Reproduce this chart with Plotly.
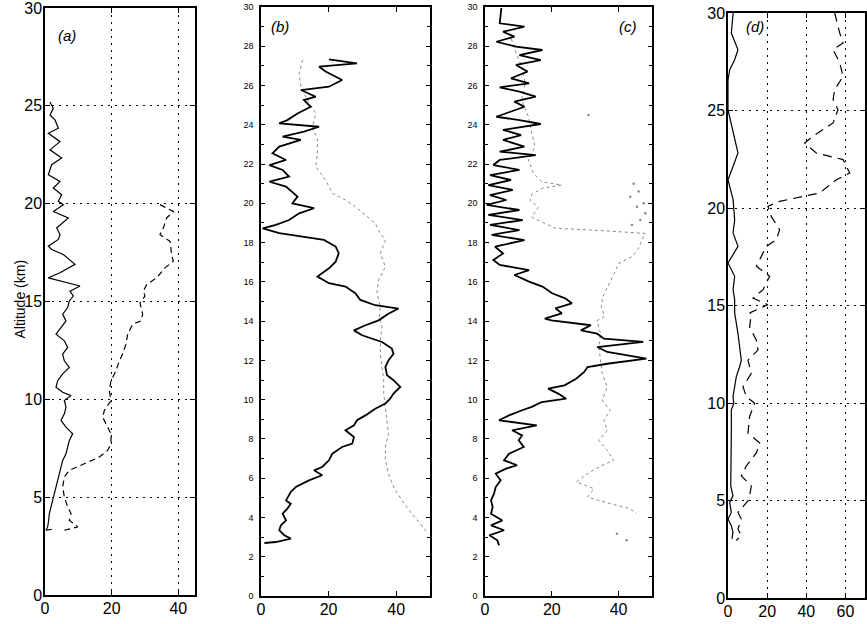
import plotly.graph_objects as go

# ---- panel (a) ----
A_ALT_SOLID = [25.2, 24.87, 24.53, 24.28, 23.85, 23.6, 23.17, 22.75, 22.33, 21.99,
               21.48, 21.14, 20.8, 20.46, 20.12, 19.95, 19.6, 19.27, 18.76, 18.42,
               18.17, 17.83, 17.66, 17.4, 16.9, 16.47, 16.21, 15.96, 15.79, 15.53,
               15.28, 15.03, 14.69, 14.35, 14.01, 13.67, 13.33, 12.99, 12.65, 12.31,
               11.97, 11.63, 11.3, 10.95, 10.62, 10.36, 10.19, 9.94, 9.6, 9.26,
               8.92, 8.58, 8.24, 7.9, 7.56, 7.22, 6.88, 6.54, 6.2, 5.86,
               5.52, 5.18, 4.84, 4.5, 4.16, 3.82, 3.48, 3.31, 3.35]
A_X_SOLID = [1.5, 2.5, 1.5, 3.0, 4.0, 1.0, 4.5, 1.5, 5.0, 2.0,
             1.0, 4.5, 2.5, 5.0, 4.0, 5.5, 2.5, 7.0, 3.5, 4.5,
             4.0, 1.0, 2.0, 5.5, 9.0, 4.5, 1.0, 6.5, 10.5, 7.5,
             8.5, 7.3, 6.8, 5.3, 6.3, 4.8, 3.3, 5.8, 6.8, 5.3,
             5.8, 7.3, 5.3, 3.8, 3.3, 5.3, 7.8, 5.8, 6.3, 5.8,
             4.8, 6.3, 8.3, 7.3, 6.8, 6.3, 5.3, 4.8, 4.3, 3.8,
             3.3, 2.8, 2.3, 1.8, 1.3, 1.1, 0.8, 0.3, 2.0]

A_ALT_DASH = [19.95, 19.6, 19.27, 18.76, 18.42, 18.08, 17.4, 17.06, 16.72, 16.21,
              15.87, 15.53, 15.28, 14.94, 14.69, 14.35, 14.01, 13.84, 13.33, 12.82,
              12.31, 11.97, 11.46, 10.95, 10.45, 9.94, 9.43, 9.09, 8.58, 8.24,
              7.73, 7.39, 7.05, 6.71, 6.37, 6.03, 5.52, 5.01, 4.5, 4.16,
              3.82, 3.48, 3.31]
A_X_DASH = [34.5, 38.5, 36.5, 35.5, 34.5, 37.5, 38.0, 38.5, 36.0, 33.5,
            30.5, 29.5, 30.0, 28.5, 28.8, 29.3, 28.8, 26.3, 24.8, 24.3,
            23.3, 22.3, 21.3, 19.8, 19.3, 19.8, 17.8, 17.3, 18.8, 19.8,
            19.8, 18.8, 16.3, 11.8, 7.3, 5.8, 5.3, 5.8, 6.8, 7.8,
            7.3, 9.8, 5.8]

# ---- panel (b) ----
B_ALT_SOLID = [27.33, 27.13, 26.96, 26.71, 26.28, 25.94, 25.77, 25.43, 25.26, 24.92,
               24.58, 24.24, 24.07, 23.9, 23.65, 23.4, 23.23, 22.89, 22.55, 22.21,
               21.95, 21.7, 21.36, 21.1, 20.85, 20.59, 20.34, 20.0, 19.75, 19.49,
               19.15, 18.9, 18.73, 18.48, 18.27, 18.14, 17.8, 17.46, 17.03, 16.69,
               16.27, 15.93, 15.76, 15.42, 15.08, 14.81, 14.64, 14.38, 14.04, 13.79,
               13.53, 13.28, 12.94, 12.6, 12.34, 12.0, 11.66, 11.24, 10.99, 10.65,
               10.31, 10.05, 9.8, 9.54, 9.2, 8.95, 8.69, 8.44, 8.1, 7.76,
               7.59, 7.25, 6.91, 6.57, 6.4, 6.15, 5.89, 5.55, 5.3, 5.04,
               4.87, 4.7, 4.45, 4.19, 3.85, 3.6, 3.35, 3.09, 2.92, 2.75,
               2.7]
B_X_SOLID = [20.1, 28.4, 17.2, 19.1, 24.0, 20.1, 11.8, 16.2, 12.7, 14.7,
             10.8, 7.8, 5.4, 17.2, 12.7, 6.4, 11.8, 5.4, 3.4, 7.4,
             2.5, 6.4, 8.3, 2.5, 7.4, 9.3, 10.8, 9.3, 15.7, 11.3,
             8.3, 4.4, 0.5, 5.4, 14.2, 18.6, 22.1, 23.0, 22.1, 20.1,
             16.7, 20.1, 25.0, 27.9, 29.4, 33.8, 40.7, 37.7, 34.8, 30.9,
             27.5, 29.9, 35.8, 38.7, 39.2, 37.7, 36.8, 37.3, 39.2, 41.2,
             39.2, 38.2, 36.8, 33.8, 30.9, 28.4, 27.5, 25.0, 27.5, 27.0,
             24.0, 21.1, 20.1, 18.1, 15.7, 18.1, 14.2, 10.3, 8.8, 7.8,
             7.4, 8.8, 7.8, 6.4, 7.4, 5.9, 5.4, 6.9, 8.8, 4.4,
             1.0]

B_ALT_DOT = [27.3, 26.62, 25.94, 25.26, 24.58, 23.9, 23.23, 22.55, 21.87, 21.19,
             20.51, 20.17, 19.83, 19.32, 18.98, 18.47, 18.13, 17.45, 16.77, 16.1,
             15.42, 14.74, 14.23, 13.7, 13.02, 12.34, 11.66, 10.99, 10.31, 9.63,
             8.95, 8.27, 7.59, 6.91, 6.23, 5.55, 4.87, 4.19, 3.68, 3.17]
B_X_DOT = [12.3, 11.3, 11.8, 13.7, 16.2, 15.2, 16.7, 16.7, 16.2, 19.1,
           21.1, 25.0, 27.9, 31.4, 33.8, 35.3, 36.8, 35.3, 36.8, 34.8,
           34.3, 35.3, 35.0, 35.8, 35.3, 35.3, 35.8, 36.3, 36.3, 36.8,
           37.3, 37.7, 36.8, 36.8, 37.7, 39.2, 41.7, 44.6, 47.1, 49.5]

# ---- panel (c) ----
C_ALT_SOLID = [29.95, 29.17, 29.0, 28.74, 28.49, 28.23, 27.98, 27.81, 27.55, 27.3,
               27.05, 26.71, 26.37, 26.11, 25.91, 25.69, 25.43, 25.18, 24.92, 24.67,
               24.41, 24.24, 24.04, 23.74, 23.48, 23.23, 22.89, 22.63, 22.46, 22.21,
               21.95, 21.7, 21.44, 21.19, 20.93, 20.68, 20.42, 20.17, 19.92, 19.66,
               19.41, 19.15, 18.9, 18.64, 18.39, 18.13, 17.79, 17.45, 17.11, 16.86,
               16.6, 16.35, 16.01, 15.76, 15.42, 15.16, 14.91, 14.65, 14.4, 14.13,
               14.04, 13.79, 13.53, 13.36, 13.11, 12.94, 12.68, 12.43, 12.09, 11.83,
               11.66, 11.41, 11.07, 10.73, 10.56, 10.31, 10.05, 9.88, 9.63, 9.46,
               9.2, 8.95, 8.69, 8.44, 8.18, 7.93, 7.59, 7.25, 6.91, 6.66,
               6.49, 6.23, 5.89, 5.55, 5.21, 4.87, 4.53, 4.19, 3.85, 3.6,
               3.35, 3.09, 2.84, 2.58]
C_X_SOLID = [4.9, 4.4, 11.8, 5.4, 8.8, 3.4, 9.3, 17.2, 10.3, 16.7,
             9.3, 12.7, 7.8, 13.2, 4.4, 10.3, 15.2, 8.8, 11.8, 7.4,
             3.4, 10.3, 16.7, 5.4, 10.8, 5.4, 11.8, 4.4, 15.2, 4.4,
             2.5, 10.3, 1.5, 7.8, 1.0, 8.3, 1.5, 6.4, 0.5, 10.3,
             1.0, 11.3, 1.5, 10.3, 2.0, 11.8, 3.0, 5.4, 2.5, 4.4,
             13.2, 8.8, 13.2, 17.2, 20.1, 24.0, 26.0, 21.1, 23.0, 17.9,
             19.9, 31.7, 28.7, 33.6, 35.6, 47.4, 33.6, 36.6, 48.3, 36.6,
             30.7, 29.7, 27.3, 23.8, 18.9, 21.9, 24.3, 17.0, 14.0, 11.1,
             7.2, 4.2, 15.5, 8.1, 11.1, 10.1, 11.6, 7.2, 5.7, 9.6,
             6.3, 3.2, 4.7, 3.2, 2.7, 1.8, 2.3, 1.8, 5.2, 1.8,
             5.7, 1.3, 3.7, 4.2]

C_ALT_DOT = [28.66, 27.81, 26.96, 26.11, 25.26, 24.41, 23.57, 22.89, 22.21, 21.53,
             21.1, 20.93, 20.76, 20.45, 20.17, 19.8, 19.3, 18.73, 18.64, 18.55,
             18.47, 18.13, 17.71, 17.28, 16.94, 16.43, 15.76, 15.25, 14.74, 14.23,
             14.04, 13.36, 12.68, 12.0, 11.33, 10.65, 9.97, 9.46, 8.95, 8.44,
             7.93, 7.42, 6.91, 6.57, 6.23, 5.81, 5.47, 5.04, 4.7, 4.45,
             4.19]
C_X_DOT = [7.3, 9.0, 11.0, 12.0, 11.0, 13.0, 14.0, 15.0, 13.0, 14.5,
           17.0, 23.0, 17.0, 14.0, 13.5, 16.0, 14.0, 21.0, 32.0, 40.0,
           48.0, 47.0, 46.0, 44.0, 40.0, 38.7, 36.8, 35.3, 34.8, 35.8,
           33.6, 34.6, 34.1, 34.6, 35.1, 36.6, 35.1, 37.5, 35.6, 36.6,
           34.1, 36.6, 38.5, 34.1, 30.7, 27.3, 32.6, 30.7, 37.5, 43.4,
           45.4]
# isolated dots of (c)
C_ALT_SPOT = [21.0, 20.6, 20.34, 20.0, 19.83, 19.5, 19.15, 18.9, 3.17, 2.84, 24.5]
C_X_SPOT = [44.5, 46.0, 43.5, 47.5, 45.5, 48.0, 46.5, 44.0, 39.5, 42.4, 31.0]

# ---- panel (d) ----
D_ALT_SOLID = [30.0, 28.97, 28.12, 27.6, 27.09, 26.58, 25.04, 23.85, 22.82, 22.14,
               21.45, 20.43, 19.4, 18.72, 18.03, 17.18, 16.5, 15.81, 15.3, 14.62,
               13.56, 12.2, 11.86, 11.35, 10.84, 10.33, 9.99, 9.65, 8.46, 6.77,
               5.75, 5.24, 4.9, 4.39, 4.05, 3.71, 3.37, 3.03]
D_X_SOLID = [2.6, 1.7, 5.1, 3.4, 0.9, 0.0, 0.0, 2.6, 5.1, 2.6,
             0.0, 2.6, 3.4, 2.6, 5.1, 0.0, 3.4, 2.6, 3.4, 3.4,
             5.1, 6.8, 5.95, 4.25, 3.4, 2.55, 3.0, 1.7, 1.7, 1.4,
             1.4, 2.55, 0.85, 1.7, 0.0, 1.7, 2.55, 2.0]

D_ALT_DASH = [30.0, 28.97, 28.46, 28.12, 27.44, 26.75, 26.07, 25.56, 25.04, 24.36,
              23.68, 23.33, 22.82, 22.48, 21.79, 21.45, 20.77, 20.6, 20.34, 20.09,
              19.57, 18.89, 18.38, 18.03, 17.35, 17.01, 16.5, 15.81, 15.38, 15.04,
              14.62, 14.58, 13.9, 13.22, 12.71, 12.2, 11.52, 10.84, 10.33, 9.99,
              9.31, 8.46, 7.95, 7.44, 6.77, 6.26, 5.75, 5.24, 4.98, 4.39,
              4.05, 3.54, 3.2, 2.95]
D_X_DASH = [54.5, 57.1, 58.8, 53.7, 57.1, 58.8, 54.5, 53.7, 56.2, 53.7,
            43.4, 39.2, 45.1, 58.8, 62.2, 55.4, 46.8, 38.3, 26.4, 20.4,
            22.1, 26.4, 24.7, 19.6, 16.2, 14.5, 21.3, 17.9, 12.8, 20.4,
            11.1, 11.9, 11.05, 14.5, 15.3, 10.2, 11.9, 7.65, 9.35, 13.6,
            11.05, 10.2, 16.2, 14.5, 9.35, 6.8, 11.9, 11.05, 10.2, 5.1,
            6.8, 5.1, 6.8, 4.25]

W, H = 867, 624
FONT = "Liberation Sans, Arial, Helvetica, sans-serif"


def px_dom(a, b):
    return [a / W, b / W]


def py_dom(top, bottom):
    return [1 - bottom / H, 1 - top / H]


def base_axis(**kw):
    ax = dict(
        showline=True, linecolor="black", linewidth=1.5, mirror="ticks",
        ticks="inside", ticklen=5, tickcolor="black", tickwidth=1,
        zeroline=False, automargin=False, ticklabelstandoff=-2,
        ticklabeloverflow="allow",
        tickfont=dict(family=FONT, size=16, color="black"),
    )
    ax.update(kw)
    return ax


grid = dict(showgrid=True, gridcolor="black", gridwidth=1, griddash="2px,5px")
nogrid = dict(showgrid=False)

black = "black"
grey = "#8a8a8a"

fig = go.Figure()

# (a)
fig.add_trace(go.Scatter(x=A_X_SOLID, y=A_ALT_SOLID, mode="lines",
                         line=dict(color=black, width=1.2), xaxis="x", yaxis="y"))
fig.add_trace(go.Scatter(x=A_X_DASH, y=A_ALT_DASH, mode="lines",
                         line=dict(color=black, width=1.2, dash="6px,4px"), xaxis="x", yaxis="y"))
# (b)
fig.add_trace(go.Scatter(x=B_X_DOT, y=B_ALT_DOT, mode="lines",
                         line=dict(color=grey, width=1, dash="dot"), xaxis="x2", yaxis="y2"))
fig.add_trace(go.Scatter(x=B_X_SOLID, y=B_ALT_SOLID, mode="lines",
                         line=dict(color=black, width=1.8), xaxis="x2", yaxis="y2"))
# (c)
fig.add_trace(go.Scatter(x=C_X_DOT, y=C_ALT_DOT, mode="lines",
                         line=dict(color=grey, width=1, dash="dot"), xaxis="x3", yaxis="y3"))
fig.add_trace(go.Scatter(x=C_X_SPOT, y=C_ALT_SPOT, mode="markers",
                         marker=dict(color=grey, size=2.5), xaxis="x3", yaxis="y3"))
fig.add_trace(go.Scatter(x=C_X_SOLID, y=C_ALT_SOLID, mode="lines",
                         line=dict(color=black, width=1.8), xaxis="x3", yaxis="y3"))
# (d)
fig.add_trace(go.Scatter(x=D_X_SOLID, y=D_ALT_SOLID, mode="lines",
                         line=dict(color=black, width=1.2), xaxis="x4", yaxis="y4"))
fig.add_trace(go.Scatter(x=D_X_DASH, y=D_ALT_DASH, mode="lines",
                         line=dict(color=black, width=1.2, dash="9px,6px"), xaxis="x4", yaxis="y4"))

small_font = dict(family=FONT, size=9, color="black")
minor_y = dict(tickvals=list(range(1, 30, 2)), ticklen=3, ticks="inside", tickcolor="black")

fig.update_layout(
    width=W, height=H,
    margin=dict(l=0, r=0, t=0, b=0),
    paper_bgcolor="white", plot_bgcolor="white",
    showlegend=False,
    xaxis=base_axis(domain=px_dom(45, 195), range=[0, 45], tickvals=[0, 20, 40],
                    anchor="y", **grid),
    yaxis=base_axis(domain=py_dom(8, 595), range=[0, 30], tickvals=[0, 5, 10, 15, 20, 25, 30],
                    anchor="x", **grid),
    xaxis2=base_axis(domain=px_dom(261, 430), range=[0, 50], tickvals=[0, 20, 40],
                     anchor="y2", **nogrid),
    yaxis2=base_axis(domain=py_dom(7, 596), range=[0, 30], tickvals=list(range(0, 31, 2)),
                     anchor="x2", tickfont=small_font, ticklen=4, ticklabelstandoff=4,
                     minor=minor_y, **nogrid),
    xaxis3=base_axis(domain=px_dom(485, 652), range=[0, 50], tickvals=[0, 20, 40],
                     anchor="y3", **nogrid),
    yaxis3=base_axis(domain=py_dom(7, 596), range=[0, 30], tickvals=list(range(0, 31, 2)),
                     anchor="x3", tickfont=small_font, ticklen=4, ticklabelstandoff=4,
                     minor=minor_y, **nogrid),
    xaxis4=base_axis(domain=px_dom(728, 865), range=[0, 70], tickvals=[0, 20, 40, 60],
                     anchor="y4", **grid),
    yaxis4=base_axis(domain=py_dom(13, 598), range=[0, 30], tickvals=[0, 5, 10, 15, 20, 25, 30],
                     anchor="x4", **grid),
)

label_font = dict(family=FONT, size=15, color="black")
for ref, lx, ly, txt in [("", 6.6, 28.6, "(a)"), ("2", 5.6, 29.0, "(b)"),
                         ("3", 42.8, 29.0, "(c)"), ("4", 13.8, 29.3, "(d)")]:
    fig.add_annotation(x=lx, y=ly, xref="x" + ref, yref="y" + ref, text="<i>" + txt + "</i>",
                       showarrow=False, font=label_font)

fig.add_annotation(x=10 / W, y=0.52, xref="paper", yref="paper", text="Altitude (km)",
                   textangle=-90, showarrow=False,
                   font=dict(family=FONT, size=14, color="black"))

fig.write_html("out.html", config={"displayModeBar": False},
               post_script="document.body.style.margin='0';document.body.style.overflow='hidden';")
